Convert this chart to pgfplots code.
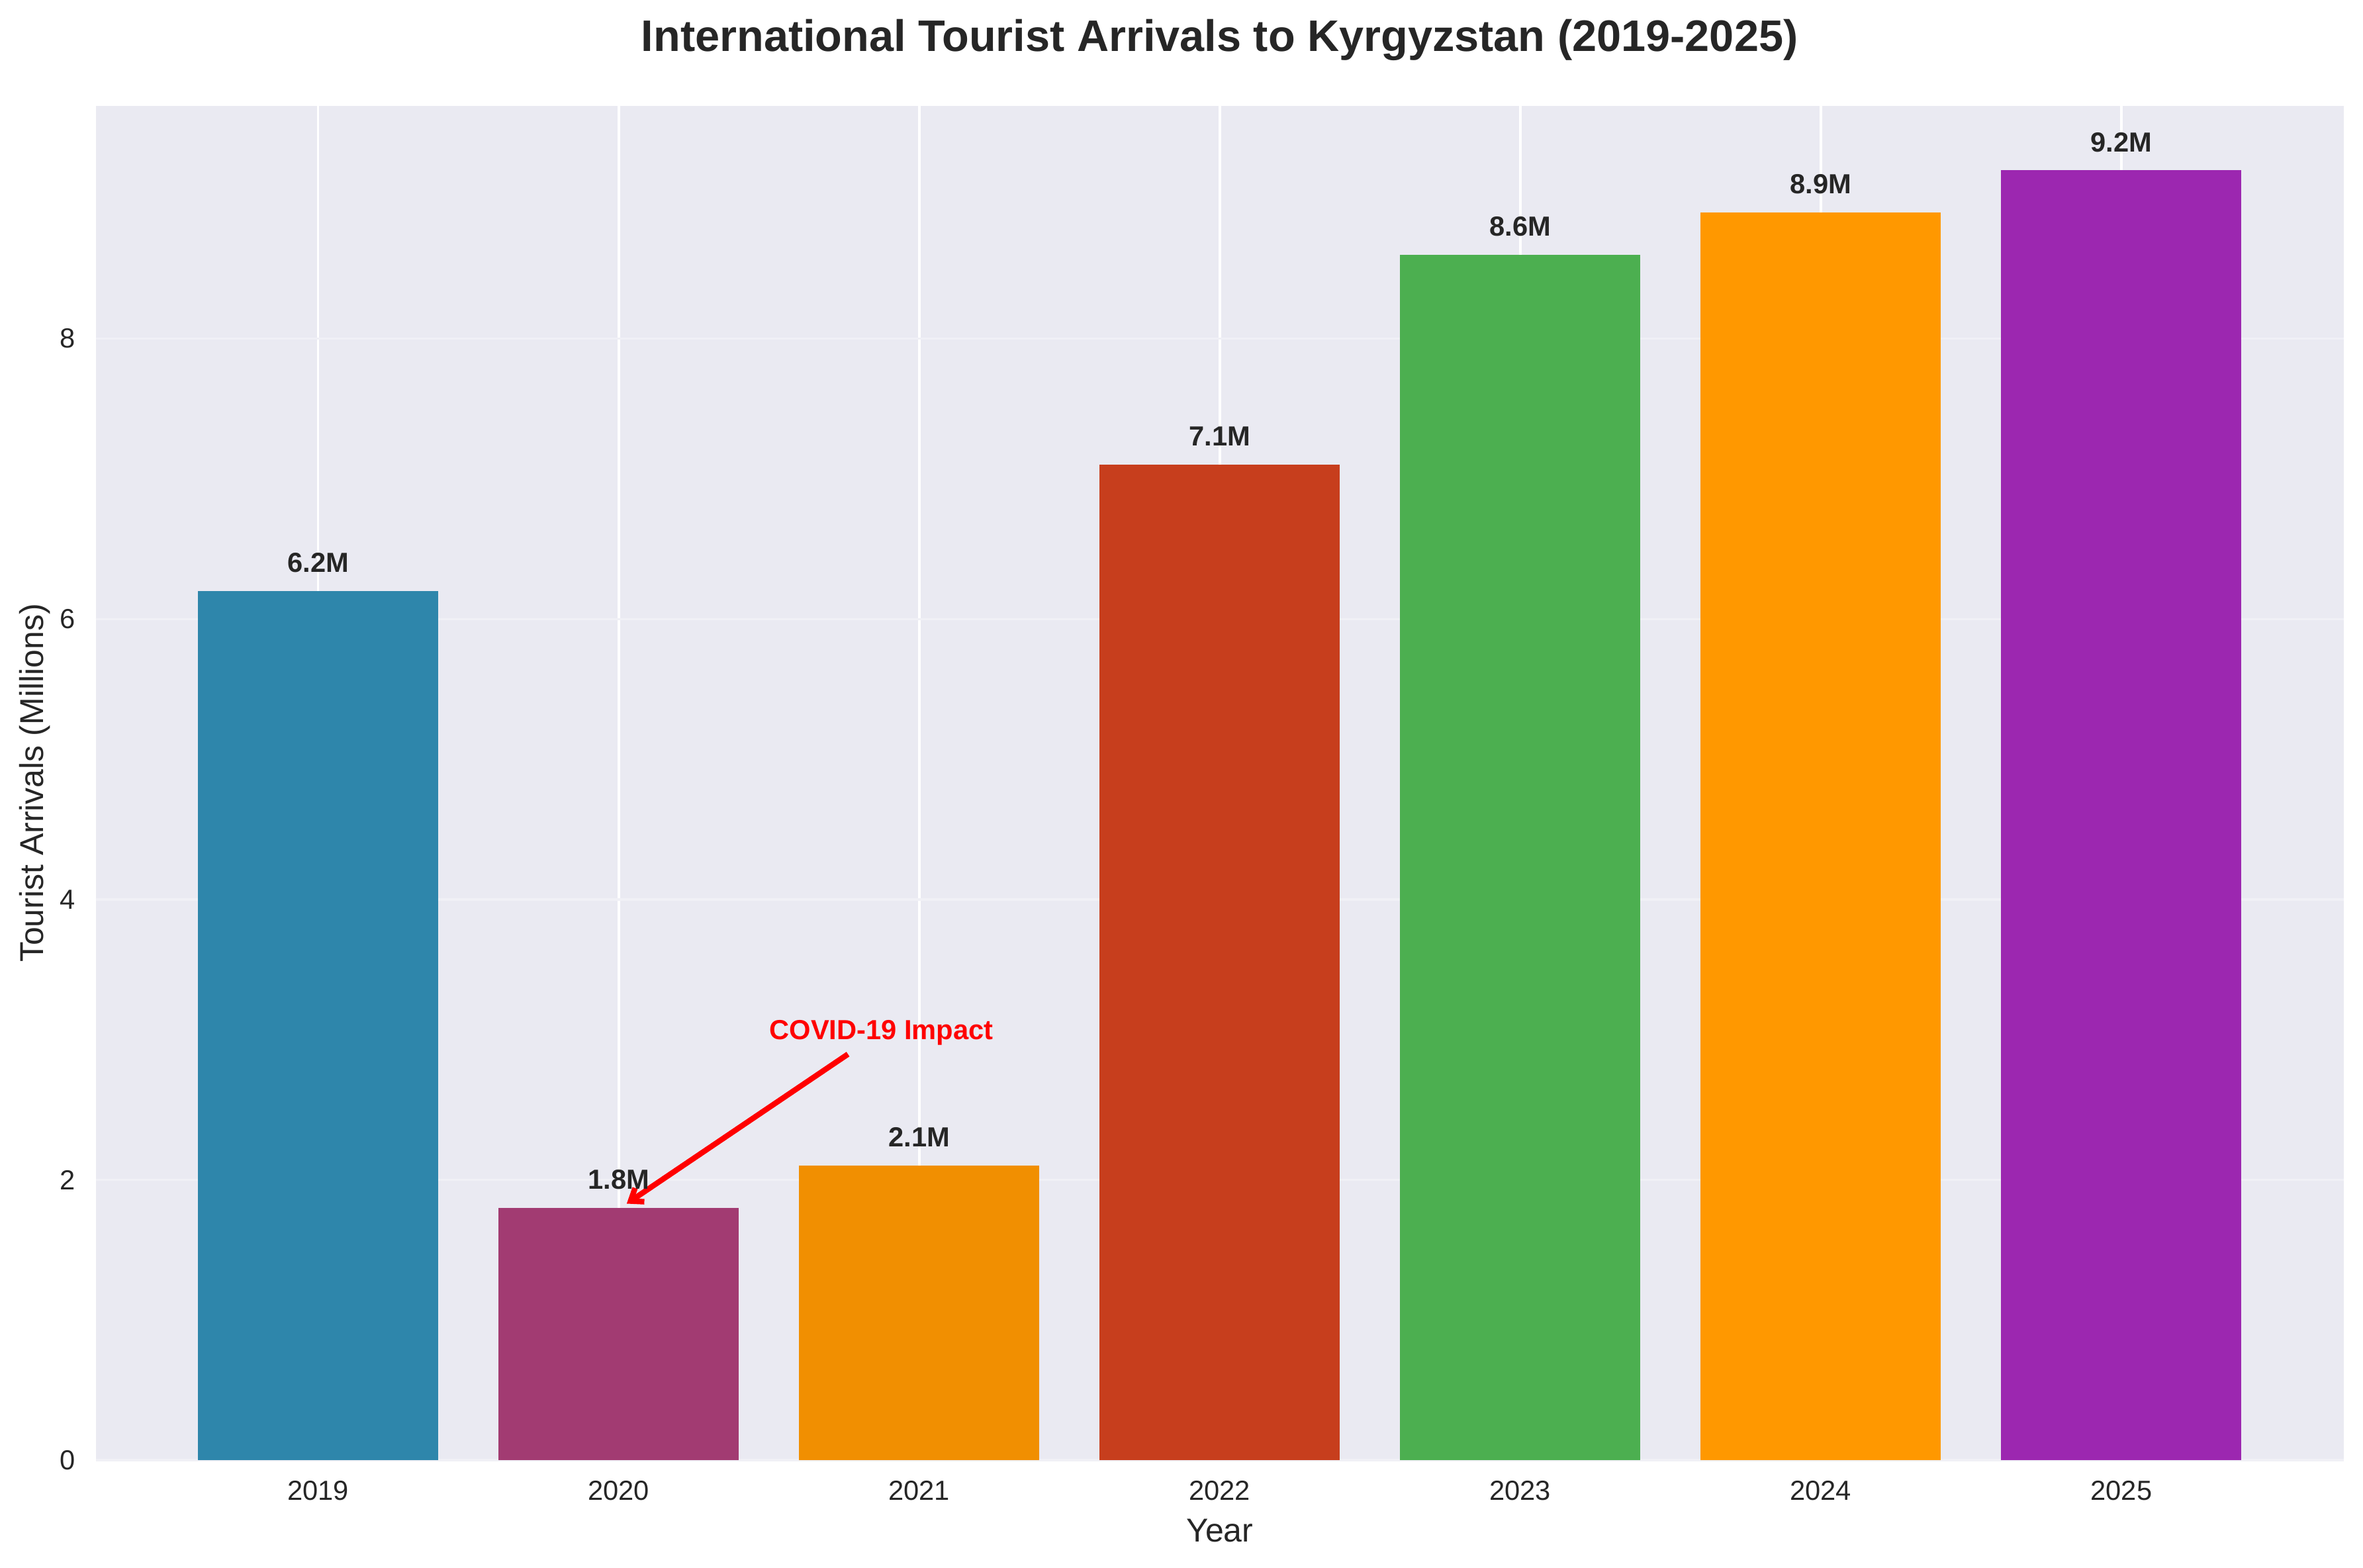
\documentclass[border=0pt]{standalone}
\usepackage{pgfplots}
\pgfplotsset{compat=1.18}
\usepackage{fontspec}
\setmainfont{Liberation Sans}
\usetikzlibrary{arrows.meta}
\definecolor{bg}{HTML}{EAEAF2}
\definecolor{ygrid}{RGB}{240,240,246}
\definecolor{tickc}{HTML}{262626}
\definecolor{c2019}{HTML}{2E86AB}
\definecolor{c2020}{HTML}{A23B72}
\definecolor{c2021}{HTML}{F18F01}
\definecolor{c2022}{HTML}{C73E1D}
\definecolor{c2023}{HTML}{4CAF50}
\definecolor{c2024}{HTML}{FF9800}
\definecolor{c2025}{HTML}{9C27B0}
\begin{document}
\begin{tikzpicture}
\begin{axis}[
  width=815pt, height=491pt, scale only axis,
  xmin=-0.74, xmax=6.74, ymin=0, ymax=9.66,
  axis background/.style={fill=bg},
  axis line style={draw=none},
  major tick length=0pt,
  xtick={0,1,2,3,4,5,6},
  xticklabels={2019,2020,2021,2022,2023,2024,2025},
  ytick={0,2,4,6,8},
  xmajorgrids, ymajorgrids,
  x grid style={white, line width=0.9pt},
  y grid style={ygrid, line width=0.8pt},
  ticklabel style={font=\fontsize{10}{12}\selectfont, text=tickc},
  xticklabel style={anchor=base, yshift=-14.6pt, inner sep=0pt},
  yticklabel style={anchor=east, xshift=-7.2pt, inner sep=0pt},
  /pgf/number format/assume math mode=true,
  ybar, bar width=0.8, bar shift=0pt,
  nodes near coords={\pgfmathprintnumber[fixed,precision=1,fixed zerofill]{\pgfplotspointmeta}M},
  nodes near coords style={font=\bfseries\fontsize{10}{12}\selectfont, text=tickc, anchor=base, inner sep=0pt, yshift=6.8pt},
]
\addplot[fill=c2019, draw=none] coordinates {(0,6.2)};
\addplot[fill=c2020, draw=none] coordinates {(1,1.8)};
\addplot[fill=c2021, draw=none] coordinates {(2,2.1)};
\addplot[fill=c2022, draw=none] coordinates {(3,7.1)};
\addplot[fill=c2023, draw=none] coordinates {(4,8.6)};
\addplot[fill=c2024, draw=none] coordinates {(5,8.9)};
\addplot[fill=c2025, draw=none] coordinates {(6,9.2)};
\node[anchor=base west, text=red, font=\bfseries\fontsize{10}{12}\selectfont, inner sep=0pt] at (axis cs:1.5,3) {COVID-19 Impact};
\draw[red, line width=2pt, -{Straight Barb[length=4pt,width=6pt]}] (axis cs:1.763,2.896) -- (axis cs:1.027,1.83);
\end{axis}
\node[font=\bfseries\fontsize{16}{19}\selectfont, text=tickc, anchor=base] at ([yshift=19.7pt]current axis.north) {International Tourist Arrivals to Kyrgyzstan (2019-2025)};
\node[font=\fontsize{12}{14}\selectfont, text=tickc, anchor=base] at ([yshift=-29.5pt]current axis.south) {Year};
\node[font=\fontsize{12}{14}\selectfont, text=tickc, anchor=base, rotate=90] at ([xshift=-19.1pt]current axis.west) {Tourist Arrivals (Millions)};
\path ([xshift=-34.7pt,yshift=-38.9pt]current axis.south west) rectangle ([xshift=7pt,yshift=38.4pt]current axis.north east);
\end{tikzpicture}
\end{document}
